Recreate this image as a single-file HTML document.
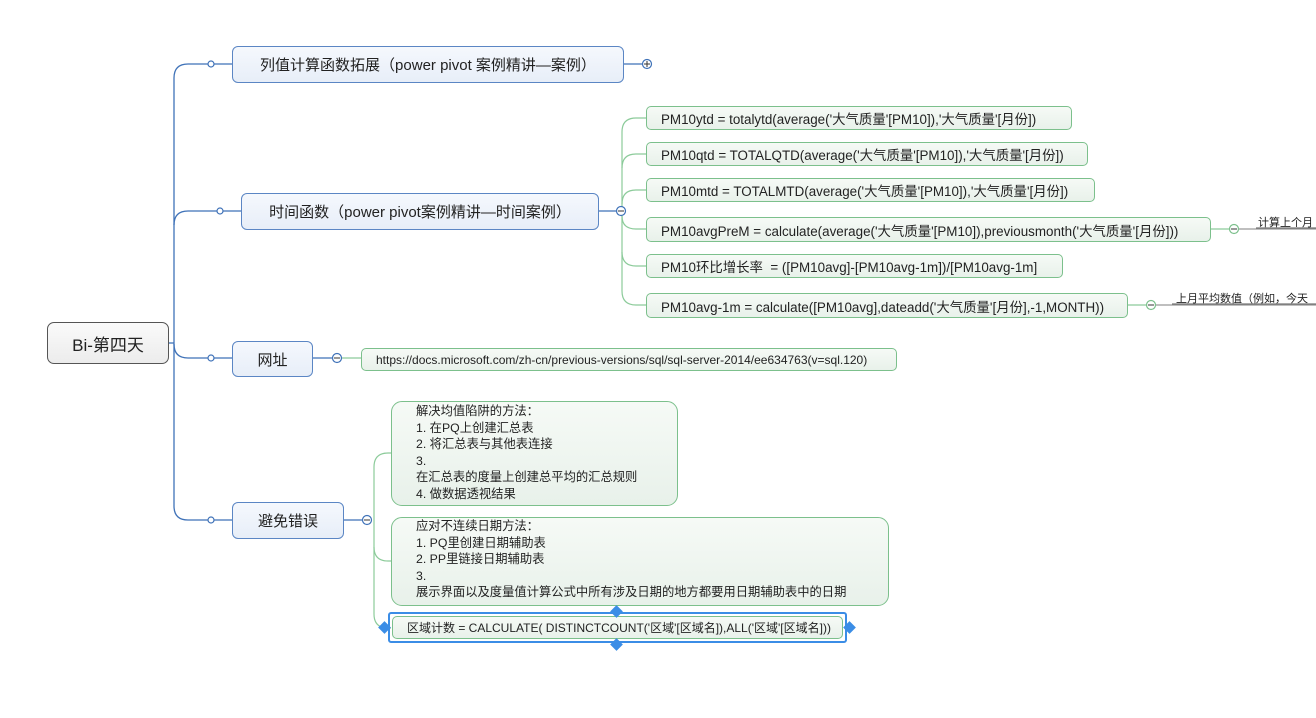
<!DOCTYPE html>
<html><head><meta charset="utf-8"><style>
body{margin:0;width:1316px;height:718px;background:#fff;position:relative;overflow:hidden;font-family:"Liberation Sans","Noto Sans CJK SC",sans-serif;}
.n{position:absolute;box-sizing:border-box;white-space:nowrap;color:#222;}
.b{background:linear-gradient(#f5f8fd,#e7eef8);border:1.5px solid #5b86c4;border-radius:6px;font-size:15px;display:flex;align-items:center;justify-content:center;}
.g{background:linear-gradient(#f6faf6,#e8f1ea);border:1.3px solid #7cc08c;border-radius:5px;font-size:13.4px;padding-left:14px;display:flex;align-items:center;}
.t{position:absolute;font-size:11px;white-space:nowrap;color:#222;}
svg{position:absolute;left:0;top:0;}
</style></head><body>
<svg width="1316" height="718">
<g fill="none" stroke="#3f72b8" stroke-width="1.3">
<path d="M168 343H174"/>
<path d="M174 78Q174 64 188 64H232"/>
<path d="M174 225Q174 211 188 211H241"/>
<path d="M174 344Q174 358 188 358H232"/>
<path d="M174 78V506Q174 520 188 520H232"/>
<path d="M623 64H643"/><path d="M598 211H617"/><path d="M312 358H333"/><path d="M343 520H363"/>
</g>
<g fill="#fff" stroke="#3f72b8" stroke-width="1.2">
<circle cx="211" cy="64" r="3"/><circle cx="220" cy="211" r="3"/><circle cx="211" cy="358" r="3"/><circle cx="211" cy="520" r="3"/>
</g>
<g fill="none" stroke="#8ccb9a" stroke-width="1.2">
<path d="M646 118H636Q622 118 622 132V291Q622 305 636 305H646"/>
<path d="M622 168Q622 154 636 154H646"/><path d="M622 204Q622 190 636 190H646"/>
<path d="M622 216Q622 229 636 229H646"/><path d="M622 252Q622 266 636 266H646"/>
<path d="M341 358H361"/>
<path d="M391 453H388Q374 453 374 467V614Q374 628 388 628H391"/>
<path d="M374 547Q374 561 388 561H391"/>
<path d="M1210 229H1230"/><path d="M1127 305H1147"/>
</g>
<g fill="none" stroke="#aaa" stroke-width="1.5"><path d="M1238 229H1316"/><path d="M1155 305H1316"/></g>
<g fill="none" stroke="#555" stroke-width="1"><path d="M1256 228H1316"/><path d="M1172 304H1316"/></g>
<g fill="#fff" stroke="#3f72b8" stroke-width="1.2">
<circle cx="647" cy="64" r="4.5"/><circle cx="621" cy="211" r="4.5"/><circle cx="337" cy="358" r="4.5"/><circle cx="367" cy="520" r="4.5"/>
</g>
<g fill="#fff" stroke="#7cc08c" stroke-width="1.2"><circle cx="1234" cy="229" r="4.5"/><circle cx="1151" cy="305" r="4.5"/></g>
<g stroke="#333" stroke-width="1"><path d="M644 64H650M647 61V67M618 211H624M334 358H340M364 520H370"/><path d="M1231 229H1237M1148 305H1154"/></g>
</svg>
<div class="n b" style="left:47px;top:322px;width:122px;height:42px;background:linear-gradient(#fafafa,#ececec);border-color:#555;border-radius:7px;font-size:17px">Bi-第四天</div>
<div class="n b" style="left:232px;top:46px;width:392px;height:37px">列值计算函数拓展（power pivot 案例精讲—案例）</div>
<div class="n b" style="left:241px;top:193px;width:358px;height:37px">时间函数（power pivot案例精讲—时间案例）</div>
<div class="n b" style="left:232px;top:341px;width:81px;height:36px">网址</div>
<div class="n b" style="left:232px;top:502px;width:112px;height:37px">避免错误</div>
<div class="n g" style="left:646px;top:106px;width:426px;height:24px">PM10ytd = totalytd(average('大气质量'[PM10]),'大气质量'[月份])</div>
<div class="n g" style="left:646px;top:142px;width:442px;height:24px">PM10qtd = TOTALQTD(average('大气质量'[PM10]),'大气质量'[月份])</div>
<div class="n g" style="left:646px;top:178px;width:449px;height:24px">PM10mtd = TOTALMTD(average('大气质量'[PM10]),'大气质量'[月份])</div>
<div class="n g" style="left:646px;top:217px;width:565px;height:25px">PM10avgPreM = calculate(average('大气质量'[PM10]),previousmonth('大气质量'[月份]))</div>
<div class="n g" style="left:646px;top:254px;width:417px;height:24px">PM10环比增长率 &nbsp;= ([PM10avg]-[PM10avg-1m])/[PM10avg-1m]</div>
<div class="n g" style="left:646px;top:293px;width:482px;height:25px">PM10avg-1m = calculate([PM10avg],dateadd('大气质量'[月份],-1,MONTH))</div>
<div class="t" style="left:1258px;top:214px">计算上个月</div>
<div class="t" style="left:1176px;top:290px">上月平均数值（例如，今天</div>
<div class="n g" style="left:361px;top:348px;width:536px;height:23px;font-size:12px">https://docs.microsoft.com/zh-cn/previous-versions/sql/sql-server-2014/ee634763(v=sql.120)</div>
<div class="n g" style="left:391px;top:401px;width:287px;height:105px;border-radius:11px;font-size:12.3px;line-height:16.5px;padding-left:24px;display:block;padding-top:1px">解决均值陷阱的方法：<br>1. 在PQ上创建汇总表<br>2. 将汇总表与其他表连接<br>3.<br>在汇总表的度量上创建总平均的汇总规则<br>4. 做数据透视结果</div>
<div class="n g" style="left:391px;top:517px;width:498px;height:89px;border-radius:11px;font-size:12.3px;line-height:16.5px;padding-left:24px;display:block;padding-top:0px">应对不连续日期方法：<br>1. PQ里创建日期辅助表<br>2. PP里链接日期辅助表<br>3.<br>展示界面以及度量值计算公式中所有涉及日期的地方都要用日期辅助表中的日期</div>
<div class="n" style="left:388px;top:612px;width:459px;height:31px;border:2.5px solid #3b8de6;border-radius:3px;padding:2px"><div class="n g" style="position:relative;width:100%;height:100%;font-size:12px;padding-left:14px">区域计数 = CALCULATE( DISTINCTCOUNT('区域'[区域名]),ALL('区域'[区域名]))</div></div>
<div class="n" style="left:612px;top:607px;width:9px;height:9px;background:#3b8de6;transform:rotate(45deg)"></div>
<div class="n" style="left:612px;top:640px;width:9px;height:9px;background:#3b8de6;transform:rotate(45deg)"></div>
<div class="n" style="left:380px;top:623px;width:9px;height:9px;background:#3b8de6;transform:rotate(45deg)"></div>
<div class="n" style="left:845px;top:623px;width:9px;height:9px;background:#3b8de6;transform:rotate(45deg)"></div>
</body></html>
